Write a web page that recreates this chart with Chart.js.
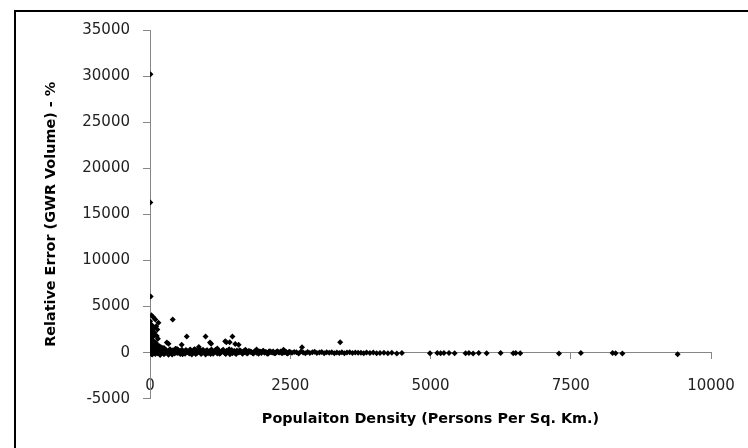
<!DOCTYPE html>
<html>
<head>
<meta charset="utf-8">
<script src="https://cdn.jsdelivr.net/npm/chart.js@4/dist/chart.umd.min.js"></script>
<style>
  body { margin: 0; background: #fff; overflow: hidden; }
  #wrap { position: relative; width: 748px; height: 448px; overflow: hidden; }
  #frame { position: absolute; left: 14px; top: 10px; width: 900px; height: 600px;
           border-top: 2px solid #000; border-left: 2px solid #000; pointer-events: none; }
  canvas { position: absolute; left: 0; top: 0; }
</style>
</head>
<body>
<div id="wrap">
  <canvas id="myChart" width="748" height="448"></canvas>
  <div id="frame"></div>
</div>
<script>
const ctx = document.querySelector("#myChart").getContext("2d")

// points close to x = 0 and the few high values
const spikeX = [8, 6, 12, 25, 60, 95, 150, 30, 70, 110, 20, 55, 130, 10, 85, 40, 140, 15, 65, 100,
    35, 120, 5, 50, 90, 160, 25, 75, 110, 45, 130, 10, 60, 150, 20, 95, 3, 18, 45, 80,
    120, 28, 2, 170, 140,
    405, 655, 990, 1090, 1360, 1420, 1470, 1580, 330, 565, 2710, 3390, 2380, 250, 480,
    800, 870, 1200, 1700, 1900, 300, 1520, 1070, 1340]
const spikeY = [30200, 16300, 6100, 4050, 3850, 3600, 3250, 3000, 2700, 2850, 2400, 2200, 2500, 2000, 1900, 1700, 1500, 1400, 1250, 1100,
    1000, 900, 800, 700, 600, 500, 450, 350, 300, 200, 150, 100, 50, 0, -100, -150, 3400, 2900, 2550, 2150,
    1800, 1550, 1200, 700, 400,
    3600, 1750, 1750, 950, 1120, 1120, 1750, 850, 950, 850, 580, 1120, 300, 500, 400,
    350, 600, 450, 300, 350, 1100, 940, 1100, 1230]

// main band along zero
const bandX = [15, 40, 70, 95, 130, 165, 190, 220, 245, 275,
    300, 330, 355, 380, 410, 440, 465, 495, 520, 550,
    580, 610, 640, 665, 700, 730, 760, 790, 815, 850,
    880, 910, 945, 975, 1005, 1035, 1060, 1095, 1125, 1150,
    1185, 1215, 1240, 1275, 1305, 1330, 1365, 1395, 1425, 1455,
    1490, 1520, 1550, 1585, 1615, 1650, 1680, 1710, 1745, 1780,
    1810, 1845, 1880, 1915, 1950, 1985, 2020, 2055, 2090, 2125,
    2160, 2195, 2235, 2270, 2305, 2345, 2380, 2420, 2455, 2495,
    2530, 2570, 2610, 2650, 2690, 2730, 2770, 2810, 2850, 2895,
    2935, 2975, 3020, 3060, 3105, 3150, 3195, 3240, 3285, 3330,
    3375, 3420, 3465, 3510, 3560, 3610, 3660, 3710, 3760, 3810,
    3860, 3920, 3980, 4040, 4100, 4170, 4240, 4310, 4400, 4490]
const bandY = [350, -200, 420, 120, -80, 260, 40, 310, -150, 180,
    90, -220, 380, 20, 250, -100, 150, 330, -50, 210,
    -180, 120, 290, 60, -90, 240, 10, 370, -140, 170,
    80, -160, 300, 30, 220, -70, 140, 340, -120, 190,
    50, 260, -130, 150, 320, -40, 200, 70, -170, 280,
    110, -60, 230, 20, 170, -110, 90, 240, -30, 150,
    60, -90, 180, 30, 120, -50, 200, 70, -120, 140,
    40, 110, -70, 160, 20, -40, 90, 130, -100, 60,
    -20, 80, 30, -90, 120, 10, -60, 70, -30, 40,
    90, -40, 20, 60, -80, 30, -10, 50, -60, 20,
    -30, 40, -70, 10, 30, -50, 20, -20, 0, -60,
    10, -40, 20, -80, -30, 0, -60, -20, -90, -50]

// second layer of the band, lower densities
const band2X = [25, 55, 85, 115, 150, 180, 210, 260, 290, 320,
    345, 370, 395, 425, 455, 485, 510, 540, 570, 600,
    625, 655, 685, 715, 745, 775, 805, 835, 865, 895,
    925, 960, 990, 1020, 1050, 1080, 1110, 1140, 1170, 1200,
    1230, 1260, 1290, 1320, 1350, 1380, 1410, 1440, 1470, 1505,
    1535, 1565, 1600, 1635, 1665, 1695, 1730, 1760, 1795, 1830,
    1860, 1900, 1935, 1970, 2005, 2040, 2075, 2110, 2145, 2180,
    2215, 2250, 2290, 2330, 2365, 2400, 2440, 2480]
const band2Y = [-150, 600, -50, 480, 200, -250, 550, -120, 260, 150,
    -80, 230, -190, 100, 420, -30, 180, -160, 300, 50,
    -120, 200, 40, 330, -200, 110, 250, -60, 160, 280,
    -40, 130, -190, 270, 60, -140, 180, 30, 300, -90,
    170, -50, 240, 80, -160, 130, 360, 10, -80, 190,
    -140, 100, 270, -20, 140, 40, -100, 180, 60, -60,
    130, 0, -110, 90, 160, -20, 40, -90, 110, 20,
    -60, 80, 30, 120, -40, 50, -80, 90]

// sparse points at high densities
const tailX = [4990, 5120, 5180, 5240, 5330, 5430, 5625, 5685, 5760, 5860,
    6000, 6250, 6475, 6520, 6600, 7290, 7680, 8245, 8300, 8420, 9405]
const tailY = [-60, -40, -80, -50, -30, -70, -60, -40, -90, -50,
    -70, -40, -60, -30, -80, -100, -50, -40, -70, -90, -180]

const xTicks = [0, 2500, 5000, 7500, 10000]
const yTicks = [-5000, 0, 5000, 10000, 15000, 20000, 25000, 30000, 35000]

const toPoints = (xs, ys) => xs.map((x, i) => ({ x: x, y: ys[i] }))
const points = [].concat(
    toPoints(bandX, bandY),
    toPoints(band2X, band2Y),
    toPoints(tailX, tailY),
    toPoints(spikeX, spikeY)
)

const tickFont = { family: "DejaVu Sans", size: 15 }
const titleFont = { family: "DejaVu Sans", size: 14.4, weight: "bold" }
const plain = v => String(v)

const scatterChart = new Chart(ctx, {
    type: 'scatter',
    data: {
        datasets: [{
            label: 'Relative Error',
            data: points,
            pointStyle: 'rectRot',
            pointRadius: 3,
            backgroundColor: '#000',
            borderColor: '#000',
            borderWidth: 0
        }]
    },
    options: {
        responsive: false,
        animation: false,
        layout: {
            padding: { left: 20, top: 30, right: 37, bottom: 10 }
        },
        plugins: {
            legend: { display: false },
            tooltip: { enabled: false },
            title: {
                display: true,
                position: 'bottom',
                fullSize: false,
                text: 'Populaiton Density (Persons Per Sq. Km.)',
                color: '#000',
                font: titleFont,
                padding: { top: 12, bottom: 10 }
            }
        },
        scales: {
            x: {
                type: 'linear',
                position: { y: 0 },
                min: xTicks[0],
                max: xTicks[xTicks.length - 1],
                afterBuildTicks: s => { s.ticks = xTicks.map(v => ({ value: v })) },
                afterFit: s => { s.paddingLeft = 0; s.paddingRight = 0 },
                ticks: { color: '#222', font: tickFont, padding: 18, maxRotation: 0, callback: plain },
                grid: { drawOnChartArea: false, drawTicks: true, tickLength: 6, color: '#868686' },
                border: { color: '#868686', width: 1 }
            },
            y: {
                type: 'linear',
                position: 'left',
                min: yTicks[0],
                max: yTicks[yTicks.length - 1],
                afterBuildTicks: s => { s.ticks = yTicks.map(v => ({ value: v })) },
                afterFit: s => { s.width = 130 },
                ticks: { color: '#222', font: tickFont, padding: 13, callback: plain },
                grid: { drawOnChartArea: false, drawTicks: true, tickLength: 7, color: '#868686' },
                border: { color: '#868686', width: 1 },
                title: {
                    display: true,
                    text: 'Relative Error (GWR Volume) - %',
                    color: '#000',
                    font: titleFont,
                    padding: { top: 23, bottom: 0 }
                }
            }
        }
    }
})
</script>
</body>
</html>
